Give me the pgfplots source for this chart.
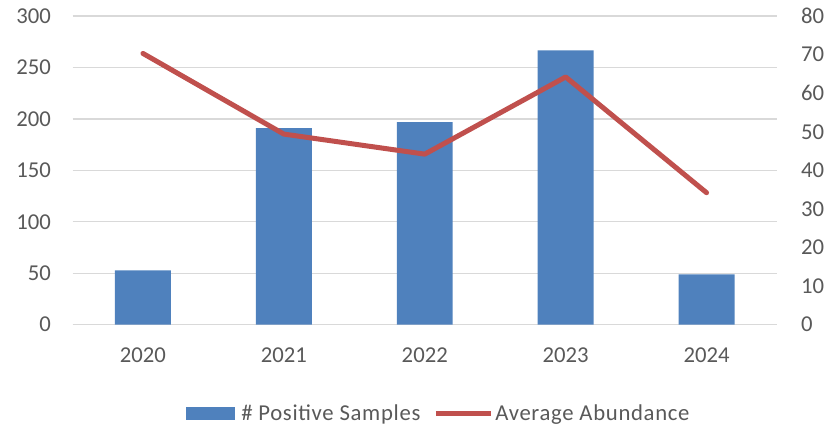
\documentclass[border=0pt]{standalone}
\usepackage{fontspec}
\setmainfont{Carlito}
\usepackage{pgfplots}
\pgfplotsset{compat=1.18}
\definecolor{barblue}{HTML}{4F81BD}
\definecolor{linered}{HTML}{C0504D}
\definecolor{gridgray}{HTML}{D9D9D9}
\definecolor{textgray}{HTML}{595959}
\begin{document}
\begin{tikzpicture}
\useasboundingbox (-72.5pt,-100.3pt) rectangle (756.5pt,324.7pt);
\pgfplotsset{every axis/.append style={
  font=\fontsize{22.7}{27}\selectfont,
  scale only axis, width=704.5pt, height=308.7pt,
  at={(0pt,0pt)}, anchor=south west,
  xmin=-0.5, xmax=4.5,
  /pgf/number format/assume math mode=true,
  major tick length=0pt,
  tick label style={text=textgray, inner sep=0pt},
}}
\begin{axis}[
  ymin=0, ymax=300, ytick={0,50,...,300},
  axis x line*=bottom, axis y line*=left,
  y axis line style={draw=none},
  x axis line style={gridgray, line width=1.3pt, -},
  ymajorgrids, grid style={gridgray, line width=1.3pt},
  xtick={0,1,2,3,4}, xticklabels={2020,2021,2022,2023,2024},
  xticklabel style={anchor=north, yshift=-23.3pt},
  yticklabel style={anchor=east, xshift=-21.5pt},
  legend columns=2,
  legend style={at={(axis description cs:0.52,0)}, anchor=center, yshift=-89pt,
    draw=none, fill=none, text=textgray,
    font=\fontsize{22.7}{27}\selectfont\addfontfeatures{LetterSpace=3},
    /tikz/every even column/.append style={column sep=11pt}},
]
\addplot[ybar, bar width=0.397, fill=barblue, draw=none,
  legend image code/.code={\fill[barblue] (0pt,-6.3pt) rectangle (49pt,6.3pt); \path (53pt,0pt);}]
  coordinates {(0,52.8) (1,191) (2,196.8) (3,266.7) (4,48.8)};
\addlegendentry{\# Positive Samples}
\addlegendimage{legend image code/.code={\draw[linered, line width=5pt] (0pt,0pt) -- (55pt,0pt);}}
\addlegendentry{Average Abundance}
\end{axis}
\begin{axis}[
  ymin=0, ymax=80, ytick={0,10,...,80},
  axis y line*=right, hide x axis,
  y axis line style={draw=none},
  yticklabel style={anchor=west, xshift=24pt},
]
\addplot[linered, line width=5pt, line cap=round, line join=round, mark=none]
  coordinates {(0,70.3) (1,49.4) (2,44.2) (3,64.2) (4,34.2)};
\end{axis}
\end{tikzpicture}
\end{document}
